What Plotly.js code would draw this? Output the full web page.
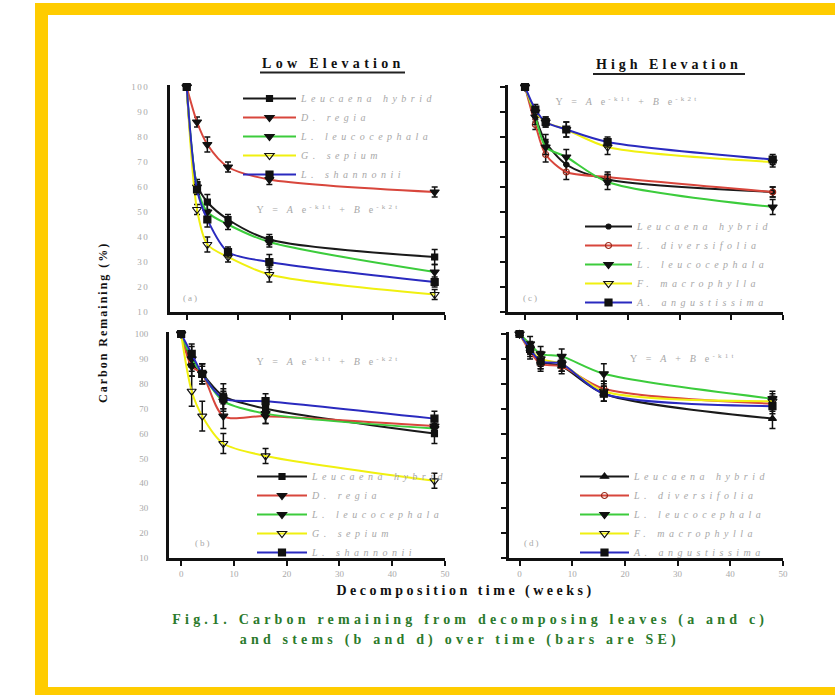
<!DOCTYPE html>
<html><head><meta charset="utf-8">
<script src="https://cdn.plot.ly/plotly-3.0.1.min.js"></script>
<style>
html,body{margin:0;padding:0;background:#fff;}
#chart{width:835px;height:695px;}
.xtick text,.ytick text{letter-spacing:1.5px;}
</style></head><body><div id="chart"></div>
<script>
// ---------------- DATA ----------------
const weeks = [0, 2, 4, 8, 16, 48];
const xTickVals = [0, 10, 20, 30, 40, 50];
const yTickVals = [10, 20, 30, 40, 50, 60, 70, 80, 90, 100];

// (a) Low elevation – leaves
const aNames = ['Leucaena hybrid', 'D. regia', 'L. leucocephala', 'G. sepium', 'L. shannonii'];
const aHybrid      = [100, 61, 54, 47, 39, 32];
const aRegia       = [100, 86, 77, 68, 63, 58];
const aLeuco       = [100, 60, 50, 45, 38, 26];
const aSepium      = [100, 51, 37, 32, 25, 17];
const aShannonii   = [100, 59, 47, 34, 30, 22];
const aHybridSE    = [0, 2, 3, 2, 2, 3];
const aRegiaSE     = [0, 2, 3, 2, 2, 2];
const aLeucoSE     = [0, 2, 3, 2, 2, 3];
const aSepiumSE    = [0, 2, 3, 2, 3, 2];
const aShannoniiSE = [0, 2, 3, 2, 3, 2];

// (c) High elevation – leaves
const cNames = ['Leucaena hybrid', 'L. diversifolia', 'L. leucocephala', 'F. macrophylla', 'A. angustissima'];
const cHybrid    = [100, 88, 78, 69, 63, 58];
const cDivers    = [100, 85, 73, 66, 64, 58];
const cLeuco     = [100, 88, 76, 72, 62, 52];
const cMacro     = [100, 90, 86, 83, 76, 70];
const cAngust    = [100, 91, 86, 83, 78, 71];
const cHybridSE  = [0, 2, 3, 3, 2, 2];
const cDiversSE  = [0, 2, 3, 3, 2, 2];
const cLeucoSE   = [0, 3, 3, 3, 3, 3];
const cMacroSE   = [0, 2, 2, 3, 3, 2];
const cAngustSE  = [0, 2, 2, 3, 2, 2];

// (b) Low elevation – stems
const bHybrid      = [100, 88, 84, 75, 70, 60];
const bRegia       = [100, 87, 84, 67, 67, 63];
const bLeuco       = [100, 90, 84, 73, 68, 62];
const bSepium      = [100, 77, 67, 56, 51, 41];
const bShannonii   = [100, 92, 84, 74, 73, 66];
const bHybridSE    = [0, 5, 4, 5, 3, 4];
const bRegiaSE     = [0, 4, 3, 5, 3, 3];
const bLeucoSE     = [0, 5, 4, 4, 4, 3];
const bSepiumSE    = [0, 6, 6, 4, 3, 3];
const bShannoniiSE = [0, 4, 4, 4, 3, 3];

// (d) High elevation – stems
const dHybrid    = [100, 94, 89, 87, 76, 66];
const dDivers    = [100, 93, 88, 87, 78, 72];
const dLeuco     = [100, 96, 92, 91, 84, 74];
const dMacro     = [100, 94, 90, 88, 77, 73];
const dAngust    = [100, 94, 89, 88, 76, 71];
const dHybridSE  = [0, 3, 3, 3, 3, 4];
const dDiversSE  = [0, 3, 3, 2, 3, 3];
const dLeucoSE   = [0, 3, 3, 3, 4, 3];
const dMacroSE   = [0, 2, 3, 3, 4, 3];
const dAngustSE  = [0, 2, 3, 3, 3, 3];

// ---------------- STYLE ----------------
const W = 835, H = 695;
const px = v => v / W;
const py = v => 1 - v / H;
const colBlack = '#1a1a1a', colRed = '#d8463c', colGreen = '#3ccc3c', colYellow = '#f0f010', colBlue = '#2a2abf';
const grayText = '#a8a8a8';
const serif = 'Liberation Serif, DejaVu Serif, serif';
const spaced = n => '<span style="letter-spacing:4.5px">' + n + '</span>';

function tr(x, y, se, name, color, symbol, msize, xa, ya, leg, mcolor) {
  return {
    x: x, y: y, name: spaced(name), type: 'scatter', mode: 'lines+markers',
    xaxis: xa, yaxis: ya, legend: leg, cliponaxis: false,
    line: {color: color, width: 2, shape: 'spline', smoothing: 0.8},
    marker: {symbol: symbol, size: msize, color: mcolor || '#111', line: {width: 1.2, color: mcolor || '#111'}},
    error_y: {type: 'data', array: se, visible: true, color: '#111', thickness: 1.5, width: 3}
  };
}

const traces = [
  tr(weeks, aHybrid, aHybridSE, aNames[0], colBlack, 'square', 6, 'x', 'y', 'legend'),
  tr(weeks, aRegia, aRegiaSE, aNames[1], colRed, 'triangle-down', 8, 'x', 'y', 'legend'),
  tr(weeks, aLeuco, aLeucoSE, aNames[2], colGreen, 'triangle-down', 8, 'x', 'y', 'legend'),
  tr(weeks, aSepium, aSepiumSE, aNames[3], colYellow, 'triangle-down-open', 8, 'x', 'y', 'legend'),
  tr(weeks, aShannonii, aShannoniiSE, aNames[4], colBlue, 'square', 7, 'x', 'y', 'legend'),

  tr(weeks, cHybrid, cHybridSE, cNames[0], colBlack, 'circle', 5, 'x2', 'y2', 'legend2'),
  tr(weeks, cDivers, cDiversSE, cNames[1], colRed, 'circle-open', 6, 'x2', 'y2', 'legend2', '#9a2a1a'),
  tr(weeks, cLeuco, cLeucoSE, cNames[2], colGreen, 'triangle-down', 8, 'x2', 'y2', 'legend2'),
  tr(weeks, cMacro, cMacroSE, cNames[3], colYellow, 'triangle-down-open', 8, 'x2', 'y2', 'legend2'),
  tr(weeks, cAngust, cAngustSE, cNames[4], colBlue, 'square', 7, 'x2', 'y2', 'legend2'),

  tr(weeks, bHybrid, bHybridSE, aNames[0], colBlack, 'square', 6, 'x3', 'y3', 'legend3'),
  tr(weeks, bRegia, bRegiaSE, aNames[1], colRed, 'triangle-down', 8, 'x3', 'y3', 'legend3'),
  tr(weeks, bLeuco, bLeucoSE, aNames[2], colGreen, 'triangle-down', 8, 'x3', 'y3', 'legend3'),
  tr(weeks, bSepium, bSepiumSE, aNames[3], colYellow, 'triangle-down-open', 8, 'x3', 'y3', 'legend3'),
  tr(weeks, bShannonii, bShannoniiSE, aNames[4], colBlue, 'square', 7, 'x3', 'y3', 'legend3'),

  tr(weeks, dHybrid, dHybridSE, cNames[0], colBlack, 'triangle-up', 7, 'x4', 'y4', 'legend4'),
  tr(weeks, dDivers, dDiversSE, cNames[1], colRed, 'circle-open', 6, 'x4', 'y4', 'legend4', '#9a2a1a'),
  tr(weeks, dLeuco, dLeucoSE, cNames[2], colGreen, 'triangle-down', 8, 'x4', 'y4', 'legend4'),
  tr(weeks, dMacro, dMacroSE, cNames[3], colYellow, 'triangle-down-open', 8, 'x4', 'y4', 'legend4'),
  tr(weeks, dAngust, dAngustSE, cNames[4], colBlue, 'square', 7, 'x4', 'y4', 'legend4')
];

function xAx(l, r, rangeMin, anchor, labels) {
  return {
    domain: [px(l), px(r)], range: [rangeMin, 50], anchor: anchor,
    showline: true, linewidth: 3, linecolor: '#111', mirror: false,
    ticks: 'outside', ticklen: 5, tickwidth: 2, tickcolor: '#111',
    tickvals: xTickVals, showticklabels: labels,
    tickfont: {family: serif, size: 9, color: grayText},
    showgrid: false, zeroline: false
  };
}
function yAx(top, bottom, anchor, labels) {
  return {
    domain: [py(bottom), py(top)], range: [10, 100.8], anchor: anchor,
    showline: true, linewidth: 3, linecolor: '#111',
    ticks: labels ? '' : 'outside', ticklen: 5, tickwidth: 2, tickcolor: '#111',
    tickvals: yTickVals, showticklabels: labels, ticklabelstandoff: 16,
    tickfont: {family: serif, size: 9, color: grayText},
    showgrid: false, zeroline: false
  };
}
function legendAt(x, y, iw) {
  return {
    x: px(x), y: py(y), xanchor: 'left', yanchor: 'top', xref: 'paper', yref: 'paper',
    bgcolor: 'rgba(0,0,0,0)', borderwidth: 0, itemwidth: iw,
    font: {family: serif, size: 10, color: grayText, style: 'italic'},
    itemclick: false, itemdoubleclick: false
  };
}
function note(x, y, text, opts) {
  return Object.assign({
    xref: 'paper', yref: 'paper', x: px(x), y: py(y), text: text,
    showarrow: false, xanchor: 'center', yanchor: 'middle',
    font: {family: serif, size: 10, color: grayText}
  }, opts || {});
}
const eq2 = 'Y = <i>A</i> e<sup>-k1t</sup> + <i>B</i> e<sup>-k2t</sup>';
const eq1 = 'Y = <i>A</i> + <i>B</i> e<sup>-k1t</sup>';

// letter spacing (px) for each annotation, in order
const annSpacing = [4.3, 4.0, 3.2, 3.2, 3.2, 3.2, 2, 2, 2, 2, 2, 3.5, 4.2, 4.2];

const layout = {
  width: W, height: H, margin: {l: 0, r: 0, t: 0, b: 0},
  paper_bgcolor: '#ffffff', plot_bgcolor: 'rgba(0,0,0,0)',
  showlegend: true,
  xaxis: xAx(170, 445, -3.23, 'y', false),
  yaxis: yAx(85, 312, 'x', true),
  xaxis2: xAx(508, 783, -3.3, 'y2', false),
  yaxis2: yAx(85, 312, 'x2', false),
  xaxis3: xAx(169, 445, -2.3, 'y3', true),
  yaxis3: yAx(332, 558, 'x3', true),
  xaxis4: xAx(509, 783, -2.0, 'y4', true),
  yaxis4: yAx(332, 558, 'x4', false),
  legend: legendAt(238, 84, 53),
  legend2: legendAt(580, 212, 47),
  legend3: legendAt(252, 462, 50),
  legend4: legendAt(575, 462, 49),
  shapes: [
    {type: 'rect', xref: 'paper', yref: 'paper', x0: px(35), x1: px(48), y0: 0, y1: py(3), fillcolor: '#FFCC00', line: {width: 0}},
    {type: 'rect', xref: 'paper', yref: 'paper', x0: px(35), x1: 1, y0: py(15), y1: py(3), fillcolor: '#FFCC00', line: {width: 0}},
    {type: 'rect', xref: 'paper', yref: 'paper', x0: px(35), x1: 1, y0: 0, y1: py(687), fillcolor: '#FFCC00', line: {width: 0}},
    {type: 'line', xref: 'paper', yref: 'paper', x0: px(260), x1: px(405), y0: py(72.5), y1: py(72.5), line: {color: '#222', width: 2}},
    {type: 'line', xref: 'paper', yref: 'paper', x0: px(593), x1: px(745), y0: py(74), y1: py(74), line: {color: '#222', width: 2}}
  ],
  annotations: [
    note(333, 63, '<b>Low Elevation</b>', {font: {family: serif, size: 14, color: '#111'}}),
    note(669, 65, '<b>High Elevation</b>', {font: {family: serif, size: 14, color: '#111'}}),
    note(328, 209, eq2),
    note(627, 101, eq2),
    note(328, 361, eq2),
    note(683, 358, eq1),
    note(191, 298, '(a)', {font: {family: serif, size: 9, color: grayText}}),
    note(531, 298, '(c)', {font: {family: serif, size: 9, color: grayText}}),
    note(203, 543, '(b)', {font: {family: serif, size: 9, color: grayText}}),
    note(532, 543, '(d)', {font: {family: serif, size: 9, color: grayText}}),
    note(103, 323, '<b>Carbon Remaining (%)</b>', {textangle: -90, font: {family: serif, size: 12, color: '#111'}}),
    note(466, 591, '<b>Decomposition time (weeks)</b>', {font: {family: serif, size: 14, color: '#111'}}),
    note(470, 620, '<b>Fig.1. Carbon remaining from decomposing leaves (a and c)</b>', {font: {family: serif, size: 14, color: '#2b7a2b'}}),
    note(460, 640, '<b>and stems (b and d) over time (bars are SE)</b>', {font: {family: serif, size: 14, color: '#2b7a2b'}})
  ]
};

Plotly.newPlot('chart', traces, layout, {displayModeBar: false, staticPlot: true}).then(function (gd) {
  gd.querySelectorAll('g.annotation').forEach(function (g) {
    var i = +g.getAttribute('data-index');
    var t = g.querySelector('text');
    if (t && annSpacing[i] != null) t.style.letterSpacing = annSpacing[i] + 'px';
  });
});
</script></body></html>
